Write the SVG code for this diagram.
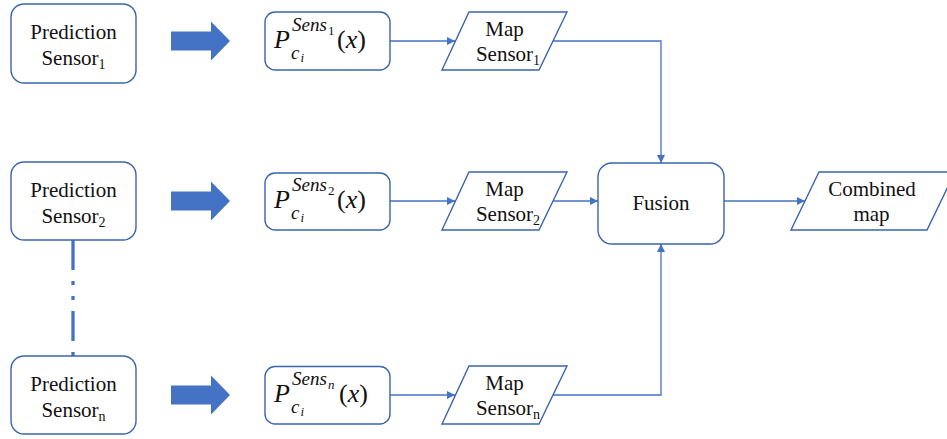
<svg xmlns="http://www.w3.org/2000/svg" width="947" height="439" viewBox="0 0 947 439">
  <style>
    .box { fill: #ffffff; stroke: #3B64AD; stroke-width: 1.4; }
    .para { fill: #ffffff; stroke: #3B64AD; stroke-width: 1.4; }
    .fat { fill: #4472C4; stroke: none; }
    .lbl { font-family: "Liberation Serif", "Times New Roman", serif; font-size: 21px; fill: #111111; }
    .sub { font-size: 14px; }
    .math { font-family: "Liberation Serif", "Times New Roman", serif; fill: #111111; }
    .it { font-style: italic; }
    .link { fill: none; stroke: #4472C4; stroke-width: 1.3; }
    .dashdot { fill: none; stroke: #4472C4; stroke-width: 3.3; stroke-dasharray: 30 11 4 11 4 11; }
  </style>
  <defs>
    <marker id="tip" viewBox="0 0 10 10" refX="10" refY="5" markerWidth="9" markerHeight="8" markerUnits="userSpaceOnUse" orient="auto">
      <path d="M0,0 L10,5 L0,10 z" fill="#4472C4"/>
    </marker>
    <path id="fatArrow" class="fat" d="M0,-9.5 L40,-9.5 L40,-19.5 L59,0 L40,19.5 L40,9.5 L0,9.5 z"/>
  </defs>

  <!-- connectors -->
  <g id="connectors">
    <line class="dashdot" x1="73" y1="240" x2="73" y2="356"/>
    <use href="#fatArrow" x="171" y="41"/>
    <use href="#fatArrow" x="171" y="201"/>
    <use href="#fatArrow" x="171" y="395"/>
    <line class="link" x1="390" y1="41" x2="455" y2="41" marker-end="url(#tip)"/>
    <line class="link" x1="390" y1="201" x2="455" y2="201" marker-end="url(#tip)"/>
    <line class="link" x1="390" y1="395" x2="455" y2="395" marker-end="url(#tip)"/>
    <polyline class="link" points="553,41 661,41 661,163" marker-end="url(#tip)"/>
    <line class="link" x1="553" y1="201" x2="598" y2="201" marker-end="url(#tip)"/>
    <polyline class="link" points="553,395 661,395 661,244" marker-end="url(#tip)"/>
    <line class="link" x1="724" y1="201" x2="805" y2="201" marker-end="url(#tip)"/>
  </g>

  <!-- prediction sources -->
  <g id="pred1">
    <rect class="box" x="11" y="4" width="125" height="79" rx="13"/>
    <text class="lbl" x="73.5" y="39" text-anchor="middle">Prediction</text>
    <text class="lbl" x="73.5" y="65" text-anchor="middle">Sensor<tspan class="sub" dy="4">1</tspan></text>
  </g>
  <g id="pred2">
    <rect class="box" x="11" y="162" width="125" height="78" rx="13"/>
    <text class="lbl" x="73.5" y="196.5" text-anchor="middle">Prediction</text>
    <text class="lbl" x="73.5" y="222.5" text-anchor="middle">Sensor<tspan class="sub" dy="4">2</tspan></text>
  </g>
  <g id="predn">
    <rect class="box" x="11" y="356" width="125" height="78" rx="13"/>
    <text class="lbl" x="73.5" y="390.5" text-anchor="middle">Prediction</text>
    <text class="lbl" x="73.5" y="416.5" text-anchor="middle">Sensor<tspan class="sub" dy="4">n</tspan></text>
  </g>

  <!-- probability maps -->
  <g id="prob1">
    <rect class="box" x="265" y="12" width="125" height="58" rx="10"/>
    <text class="math" y="48"><tspan class="it" x="274" font-size="26">P</tspan><tspan class="it" x="292" y="30.5" font-size="19">Sens</tspan><tspan x="328" y="35" font-size="13">1</tspan><tspan class="it" x="291" y="58.5" font-size="19">c</tspan><tspan class="it" x="300.5" y="62" font-size="13">i</tspan><tspan x="337" y="48" font-size="26">(</tspan><tspan class="it" font-size="26">x</tspan><tspan font-size="26">)</tspan></text>
  </g>
  <g id="prob2">
    <rect class="box" x="265" y="173" width="125" height="57" rx="10"/>
    <text class="math" y="208"><tspan class="it" x="274" font-size="26">P</tspan><tspan class="it" x="292" y="190.5" font-size="19">Sens</tspan><tspan x="328" y="195" font-size="13">2</tspan><tspan class="it" x="291" y="218.5" font-size="19">c</tspan><tspan class="it" x="300.5" y="222" font-size="13">i</tspan><tspan x="337" y="208" font-size="26">(</tspan><tspan class="it" font-size="26">x</tspan><tspan font-size="26">)</tspan></text>
  </g>
  <g id="probn">
    <rect class="box" x="265" y="366.5" width="125" height="57.5" rx="10"/>
    <text class="math" y="402"><tspan class="it" x="274" font-size="26">P</tspan><tspan class="it" x="292" y="384.5" font-size="19">Sens</tspan><tspan class="it" x="328" y="389" font-size="13">n</tspan><tspan class="it" x="291" y="412.5" font-size="19">c</tspan><tspan class="it" x="300.5" y="416" font-size="13">i</tspan><tspan x="339" y="402" font-size="26">(</tspan><tspan class="it" font-size="26">x</tspan><tspan font-size="26">)</tspan></text>
  </g>

  <!-- per-sensor maps -->
  <g id="map1">
    <polygon class="para" points="469,12 567,12 539,70 442,70"/>
    <text class="lbl" x="504.5" y="36" text-anchor="middle">Map</text>
    <text class="lbl" x="508" y="61" text-anchor="middle">Sensor<tspan class="sub" dy="4">1</tspan></text>
  </g>
  <g id="map2">
    <polygon class="para" points="469,172 567,172 539,230 442,230"/>
    <text class="lbl" x="504.5" y="196" text-anchor="middle">Map</text>
    <text class="lbl" x="508" y="221" text-anchor="middle">Sensor<tspan class="sub" dy="4">2</tspan></text>
  </g>
  <g id="mapn">
    <polygon class="para" points="469,366 567,366 539,424 442,424"/>
    <text class="lbl" x="504.5" y="390" text-anchor="middle">Map</text>
    <text class="lbl" x="508" y="415" text-anchor="middle">Sensor<tspan class="sub" dy="4">n</tspan></text>
  </g>

  <!-- fusion -->
  <g id="fusion">
    <rect class="box" x="598" y="163" width="126" height="81" rx="14"/>
    <text class="lbl" x="661" y="210" text-anchor="middle">Fusion</text>
  </g>

  <!-- result -->
  <g id="combined">
    <polygon class="para" points="819,172 955,172 927,230 791,230"/>
    <text class="lbl" x="872" y="196" text-anchor="middle">Combined</text>
    <text class="lbl" x="871.5" y="221" text-anchor="middle">map</text>
  </g>
</svg>
